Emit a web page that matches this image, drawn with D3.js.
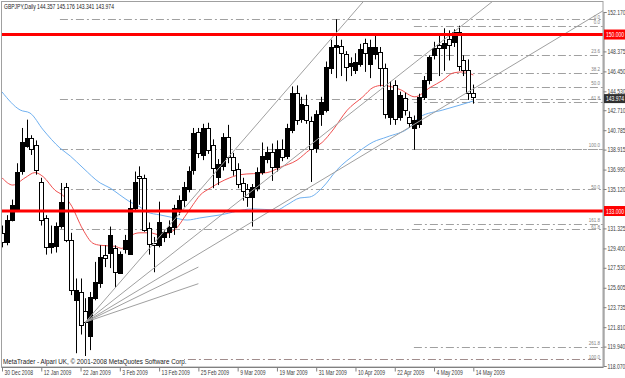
<!DOCTYPE html>
<html>
<head>
<meta charset="utf-8">
<script src="https://cdn.jsdelivr.net/npm/d3@7"></script>
<style>
  body { margin: 0; background: #fff; }
  svg { display: block; }
  text { font-family: "Liberation Sans", Arial, sans-serif; }
</style>
</head>
<body>
<div id="chart"></div>
<script>
// daily GBPJPY bars, 30 Dec 2008 .. 14 May 2009 (bar index 0..96)
const openP = [130.9,130.0,132.2,133.1,136.8,139.2,140.0,139.4,135.8,132.3,129.5,129.7,131.6,135.3,130.2,124.4,125.2,123.4,120.9,124.7,
  126.1,128.8,129.0,129.4,127.1,129.3,128.9,133.3,136.4,136.2,131.4,129.9,129.7,130.5,131.0,131.5,133.0,134.0,135.2,136.9,
  140.6,138.4,141.0,139.4,136.2,137.3,140.1,138.2,137.0,135.7,135.1,134.3,135.3,136.8,138.0,138.7,137.3,139.0,138.3,140.8,
  144.4,141.9,143.2,141.7,139.0,142.3,142.8,146.8,148.8,148.9,148.1,147.0,146.6,147.2,149.2,147.2,148.1,148.3,146.8,142.1,
  145.1,142.1,143.9,142.1,141.0,141.4,144.0,145.6,148.0,149.0,148.7,149.6,149.2,150.2,147.5,146.6,144.357];
const highP = [131.6,132.6,134.1,137.6,141.0,141.8,140.3,139.8,136.2,132.6,131.6,131.9,135.7,135.7,130.9,126.5,126.5,124.6,125.2,128.1,
  129.7,129.7,131.5,129.7,129.1,130.7,134.1,136.8,137.3,136.5,131.9,130.5,133.9,131.2,132.1,133.6,134.5,135.8,137.3,141.0,
  141.0,141.4,141.5,139.9,138.0,140.5,141.3,138.6,137.6,136.2,135.6,135.6,137.2,139.6,139.2,139.5,139.8,139.9,141.4,145.0,
  145.1,144.0,144.2,142.1,142.7,144.0,147.4,149.5,151.47,149.5,148.4,147.8,148.2,149.1,149.6,149.5,149.9,148.8,147.2,145.5,
  145.6,144.5,144.4,142.6,142.2,144.3,146.0,148.0,149.3,150.0,150.6,150.4,150.5,150.85,148.0,147.6,145.176];
const lowP = [129.5,129.7,132.0,132.9,136.5,139.1,138.4,136.5,131.6,128.8,128.9,129.0,131.3,130.0,124.9,119.3,121.1,118.72,119.6,124.4,
  125.6,127.6,127.5,125.6,127.0,128.9,128.9,133.1,133.6,131.0,128.8,127.1,129.5,130.0,130.4,130.7,132.6,133.4,134.8,136.5,
  138.1,137.9,138.5,135.2,135.5,136.9,137.6,136.4,135.2,134.0,133.4,131.5,134.9,136.5,137.6,135.9,136.8,137.8,138.0,140.5,
  141.3,141.5,141.4,135.8,138.6,141.2,142.5,146.2,145.8,146.0,145.5,146.0,146.2,146.9,146.4,145.8,147.6,145.0,141.9,141.3,
  141.3,141.7,142.2,141.0,138.9,141.0,143.7,145.2,147.6,146.0,146.5,147.5,148.8,146.5,146.0,143.7,143.341];
const closeP = [130.0,132.1,133.6,136.8,139.6,140.0,138.9,137.0,132.1,129.5,129.9,131.6,133.9,130.2,125.4,125.4,122.0,122.3,124.7,126.2,
  128.6,128.5,130.7,127.1,128.9,130.2,133.3,135.8,136.2,131.2,129.9,129.7,131.9,131.0,131.5,133.3,134.1,135.3,136.9,140.5,
  138.6,141.0,138.9,137.2,137.5,140.1,138.2,136.9,135.6,134.9,134.3,135.3,136.8,138.3,138.7,137.3,139.0,138.2,141.0,144.4,
  141.8,143.3,141.8,139.0,142.3,143.5,146.9,148.8,149.0,148.2,146.8,147.3,147.4,148.6,148.2,148.8,148.8,146.8,142.4,144.7,
  141.8,144.2,142.7,141.5,141.8,144.0,145.6,147.8,148.7,148.7,149.2,149.0,150.2,146.9,146.5,144.4,143.974];

// moving averages: [bar, price]
const maFast = [[0,136.2],[2.2,135.5],[4.7,136.2],[6.7,136.7],[8.4,136.3],[10.8,135.0],[12.4,134.5],[13.9,133.7],[16.5,131.2],
  [18.5,129.9],[20,129.7],[23,129.6],[24.4,129.4],[25.5,130.0],[26.5,130.7],[28.1,130.9],[30.1,130.9],[32.2,130.7],[35.2,131.2],
  [37.3,132.5],[38.9,133.6],[40.3,134.5],[42.4,135.2],[46.4,136.2],[48.5,136.5],[54,136.7],[56.6,137.2],[60.1,137.9],[62.7,138.9],
  [65.2,139.6],[67.4,140.8],[70.3,142.7],[73.5,144.0],[75.6,144.9],[77.4,145.1],[81.1,144.7],[84.1,144.0],[87.2,144.9],
  [89.8,145.6],[91.9,146.3],[93.9,146.4],[96,146.1]];
const maSlow = [[0,144.47],[3.7,142.73],[5.7,142.44],[8.4,140.81],[11.8,139.07],[13.9,138.3],[16.5,137.15],[20,135.7],[22,135.22],
  [24,134.55],[26.1,133.87],[28.1,133.39],[29.5,132.91],[32.2,132.62],[35.2,132.33],[37.7,132.13],[40.3,132.33],[44.4,132.62],
  [51.1,133.2],[56,133.1],[58,133.58],[60.7,134.26],[62.7,134.35],[65.4,135.32],[68.2,136.95],[72.3,138.59],[75.6,139.65],
  [78.4,140.13],[83.1,141.09],[85.1,142.06],[89.8,142.73],[93.3,143.21],[96,143.6]];

// horizontal levels
const hLevels = [150.0, 133.0];
const lastPrice = 143.974;

// fibonacci objects (labels hidden where the other object's label sits on top)
const fibStartBar = [11.8, 83.9];
const fibHigh = [151.47, 150.85];
const fibLow = [118.74, 139.02];
const fibLevels = [[0, 23.6, 38.2, 50, 61.8, 100], [0, 23.6, 38.2, 50, 61.8, 100, 161.8, 261.8]];
const fibLabelled = [[0, 50, 61.8, 100], [0, 23.6, 38.2, 50, 61.8, 100, 161.8, 261.8]];

// trend lines: [bar1, price1, bar2, price2]
const trendLines = [
  [17, 122.3, 68.2, 150.23],
  [17, 122.3, 69.45, 141.84],
  [17, 122.3, 83.1, 141.1],
  [17, 122.3, 40, 127.6],
  [17, 122.3, 40, 126.0]
];
const trendRay = [true, true, true, false, false];

// axes (150.245 and 133.195 sit under the level boxes)
const yTicks = [152.17, 148.375, 146.45, 144.53, 142.71, 140.785, 138.915, 136.99, 135.12, 131.325,
  129.4, 127.53, 125.605, 123.735, 121.81, 119.94, 118.07];
const xTickBars = [0, 8, 16, 24, 32, 40, 48, 56, 64, 72, 80, 88, 96];
const xTickLabels = ["30 Dec 2008", "12 Jan 2009", "22 Jan 2009", "3 Feb 2009", "13 Feb 2009", "25 Feb 2009", "9 Mar 2009",
  "19 Mar 2009", "31 Mar 2009", "10 Apr 2009", "22 Apr 2009", "4 May 2009", "14 May 2009"];

const width = 625, height = 378;
const plot = { left: 2, right: 603, top: 2, bottom: 367 };
const FS = 7, SX = 0.72;

const svg = d3.select("#chart").append("svg").attr("width", width).attr("height", height);
svg.append("rect").attr("width", width).attr("height", height).attr("fill", "#fff");

const x = d3.scaleLinear().domain([0, 96]).range([2, 473.3]);
const y = d3.scaleLinear().domain([118.07, 152.17]).range([366, 12]);

svg.append("defs").append("clipPath").attr("id", "clip")
  .append("rect").attr("x", plot.left).attr("y", plot.top)
  .attr("width", plot.right - plot.left).attr("height", plot.bottom - plot.top);

const g = svg.append("g").attr("clip-path", "url(#clip)");

function label(sel, tx, ty, txt, anchor, sx, fs) {
  return sel.append("text")
    .attr("transform", `translate(${tx},${ty}) scale(${sx || SX},1)`)
    .attr("text-anchor", anchor || "start")
    .style("font-size", (fs || FS) + "px")
    .text(txt);
}

// fibonacci levels
fibLevels.forEach((lv, k) => {
  const range = fibHigh[k] - fibLow[k];
  lv.forEach((l) => {
    const p = fibHigh[k] - range * l / 100;
    const yy = Math.round(y(p)) + 0.5;
    g.append("line")
      .attr("x1", x(fibStartBar[k])).attr("x2", plot.right)
      .attr("y1", yy).attr("y2", yy)
      .attr("stroke", l === 100 && k === 0 ? "#a08c8c" : "#a0a0a0")
      .attr("stroke-width", 1)
      .attr("stroke-dasharray", "8,3,2,3");
    if (fibLabelled[k].includes(l)) {
      label(g, 600, yy - (k === 0 ? 1 : 2.5), l.toFixed(1), "end", 0.75, 6).attr("fill", "#808080");
    }
  });
});

// moving averages
const maLine = d3.line().curve(d3.curveMonotoneX).x((d) => x(d[0])).y((d) => y(d[1]));
g.append("path").datum(maSlow).attr("fill", "none").attr("stroke", "#6fb0f0").attr("stroke-width", 1).attr("d", maLine);
g.append("path").datum(maFast).attr("fill", "none").attr("stroke", "#f05050").attr("stroke-width", 1).attr("d", maLine);

// candles
const bars = d3.range(openP.length);
g.selectAll(".wick").data(bars).enter().append("line")
  .attr("x1", (i) => Math.round(x(i)) + 0.5).attr("x2", (i) => Math.round(x(i)) + 0.5)
  .attr("y1", (i) => y(highP[i])).attr("y2", (i) => y(lowP[i]))
  .attr("stroke", "#000").attr("stroke-width", 1);
g.selectAll(".body").data(bars).enter().append("rect")
  .attr("x", (i) => Math.round(x(i)) - 1.5)
  .attr("y", (i) => Math.round(y(Math.max(openP[i], closeP[i]))) + 0.5)
  .attr("width", 4)
  .attr("height", (i) => Math.max(1, Math.round(Math.abs(y(openP[i]) - y(closeP[i])))))
  .attr("fill", (i) => (closeP[i] > openP[i] ? "#000" : "#fff"))
  .attr("stroke", "#000").attr("stroke-width", 1);

// trend lines
trendLines.forEach((t, k) => {
  const x1 = x(t[0]), y1 = y(t[1]), x2 = x(t[2]), y2 = y(t[3]);
  let ex = x2, ey = y2;
  if (trendRay[k]) {
    const s = (y2 - y1) / (x2 - x1);
    ex = plot.right; ey = y1 + s * (ex - x1);
  }
  g.append("line").attr("x1", x1).attr("y1", y1).attr("x2", ex).attr("y2", ey)
    .attr("stroke", "#a0a0a0").attr("stroke-width", 1);
});

// horizontal red levels
hLevels.forEach((p) => {
  g.append("line").attr("x1", plot.left).attr("x2", plot.right)
    .attr("y1", y(p)).attr("y2", y(p))
    .attr("stroke", "#ff0000").attr("stroke-width", 3);
});

// frame
svg.append("rect").attr("x", 1.5).attr("y", 1.5).attr("width", plot.right - 1.5).attr("height", plot.bottom - 1.5)
  .attr("fill", "none").attr("stroke", "#a0a0a0");

// right axis
const yAxis = svg.append("g").attr("transform", `translate(${plot.right + 0.5},0)`)
  .call(d3.axisRight(y).tickValues(yTicks).tickSize(3).tickFormat(d3.format(".3f")));
yAxis.select(".domain").attr("stroke", "#808080");
yAxis.selectAll(".tick line").attr("stroke", "#808080");
yAxis.selectAll(".tick text").style("font-size", FS + "px").attr("fill", "#404040")
  .attr("transform", `scale(${SX},1)`).attr("x", 4 / SX).attr("dy", "0.3em");

// bottom axis
const xAxis = svg.append("g").attr("transform", `translate(0,${plot.bottom + 0.5})`)
  .call(d3.axisBottom(x).tickValues(xTickBars).tickSize(4).tickFormat((d, i) => xTickLabels[i]));
xAxis.select(".domain").remove();
xAxis.selectAll(".tick line").attr("stroke", "#808080");
xAxis.selectAll(".tick text").attr("text-anchor", "start").style("font-size", FS + "px").attr("fill", "#404040")
  .attr("y", 3).attr("transform", `scale(${SX},1)`).attr("x", 2 / SX);
svg.append("line").attr("x1", 1.5).attr("x2", plot.right + 0.5).attr("y1", plot.bottom + 0.5).attr("y2", plot.bottom + 0.5)
  .attr("stroke", "#808080");

// price labels
hLevels.forEach((p) => {
  const yy = y(p);
  svg.append("rect").attr("x", plot.right + 1).attr("y", yy - 5).attr("width", 22).attr("height", 10).attr("fill", "#ff0000");
  label(svg, plot.right + 3, yy + 2.5, p.toFixed(3)).attr("fill", "#fff");
});
const ly = y(lastPrice) + 1;
svg.append("rect").attr("x", plot.right + 1).attr("y", ly - 4).attr("width", 22).attr("height", 9).attr("fill", "#303030");
label(svg, plot.right + 3, ly + 3, lastPrice.toFixed(3)).attr("fill", "#fff");

// header and copyright
label(svg, 4, 9, "GBPJPY,Daily  " + [openP[96], highP[96], lowP[96], closeP[96]].map((v) => v.toFixed(3)).join(" ")).attr("fill", "#202020");
svg.append("rect").attr("x", 2).attr("y", 356).attr("width", 182).attr("height", 10).attr("fill", "#fff");
label(svg, 3, 364, "MetaTrader - Alpari UK, © 2001-2008 MetaQuotes Software Corp.", "start", 0.9).attr("fill", "#202020");
</script>
</body>
</html>
